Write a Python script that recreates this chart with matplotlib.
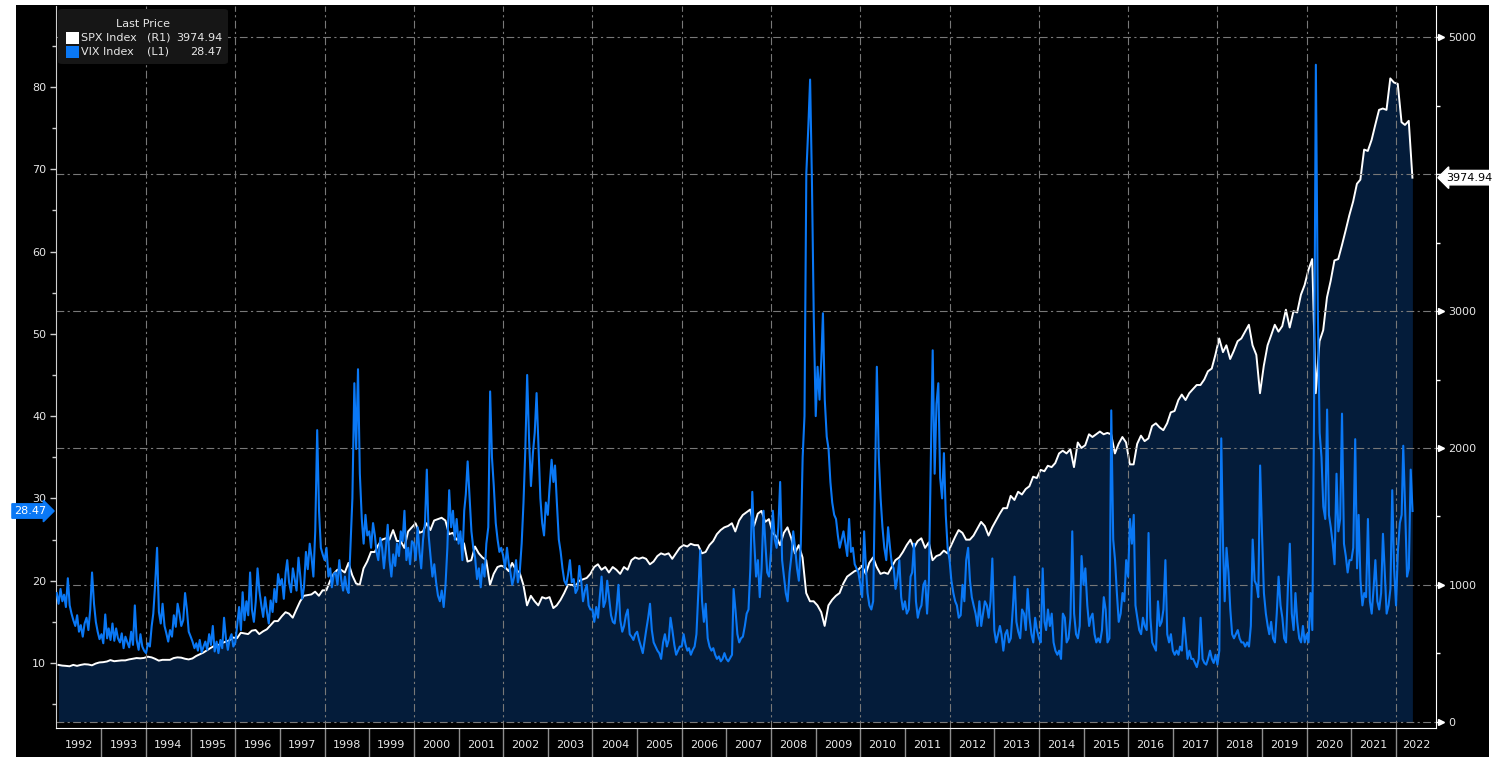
import pandas as pd
import matplotlib
matplotlib.use("Agg")
import matplotlib.pyplot as plt
import matplotlib.dates as mdates
import matplotlib.transforms as mtransforms
from matplotlib.patches import Rectangle, FancyBboxPatch
from matplotlib.ticker import MultipleLocator, FixedLocator, FixedFormatter, NullFormatter

# SPX Index, one value per month (mid-month), Jan 1992 .. May 2022
spx_monthly = [
    415, 410, 408, 405, 415, 408, 415, 420, 418, 412, 425, 433,          # 1992
    435, 440, 450, 442, 445, 448, 448, 455, 460, 465, 463, 466,          # 1993
    475, 470, 460, 446, 452, 452, 452, 465, 470, 468, 460, 455,          # 1994
    462, 480, 492, 505, 522, 540, 555, 560, 575, 585, 595, 615,          # 1995
    610, 650, 645, 640, 665, 670, 640, 660, 675, 705, 735, 735,          # 1996
    770, 800, 790, 760, 820, 880, 920, 925, 930, 950, 920, 960,          # 1997
    960, 1030, 1080, 1110, 1110, 1090, 1160, 1070, 1010, 1000, 1120, 1170,  # 1998
    1240, 1240, 1290, 1330, 1340, 1330, 1400, 1320, 1320, 1270, 1390, 1420,  # 1999
    1450, 1380, 1390, 1450, 1400, 1470, 1480, 1490, 1470, 1370, 1380, 1330,  # 2000
    1340, 1300, 1170, 1180, 1280, 1230, 1200, 1180, 1000, 1080, 1130, 1140,  # 2001
    1130, 1100, 1160, 1110, 1090, 1000, 850, 920, 880, 850, 910, 900,        # 2002
    910, 830, 850, 890, 940, 1000, 1000, 990, 1030, 1040, 1050, 1080,        # 2003
    1130, 1150, 1110, 1130, 1090, 1130, 1110, 1080, 1130, 1110, 1180, 1200,  # 2004
    1190, 1200, 1190, 1150, 1170, 1210, 1230, 1220, 1230, 1190, 1230, 1270,  # 2005
    1290, 1280, 1300, 1290, 1290, 1230, 1240, 1290, 1320, 1370, 1400, 1420,  # 2006
    1430, 1450, 1390, 1470, 1510, 1530, 1550, 1430, 1520, 1540, 1460, 1480,  # 2007
    1380, 1350, 1290, 1380, 1420, 1340, 1230, 1290, 1200, 940, 880, 880,     # 2008
    850, 800, 700, 850, 890, 920, 940, 1010, 1060, 1080, 1100, 1110,         # 2009
    1140, 1080, 1160, 1200, 1130, 1080, 1090, 1080, 1130, 1180, 1200, 1240,  # 2010
    1290, 1330, 1270, 1320, 1340, 1270, 1310, 1180, 1210, 1220, 1250, 1230,  # 2011
    1290, 1350, 1400, 1380, 1330, 1330, 1360, 1410, 1460, 1430, 1360, 1420,  # 2012
    1470, 1520, 1560, 1560, 1650, 1620, 1680, 1660, 1700, 1720, 1790, 1780,  # 2013
    1840, 1830, 1870, 1860, 1890, 1960, 1980, 1960, 1990, 1860, 2040, 2000,  # 2014
    2020, 2100, 2080, 2100, 2120, 2100, 2110, 2100, 1960, 2030, 2080, 2040,  # 2015
    1880, 1880, 2030, 2090, 2050, 2070, 2160, 2180, 2150, 2130, 2180, 2260,  # 2016
    2270, 2350, 2390, 2350, 2400, 2430, 2460, 2460, 2500, 2560, 2580, 2680,  # 2017
    2800, 2700, 2750, 2650, 2710, 2780, 2800, 2850, 2900, 2750, 2680, 2400,  # 2018
    2600, 2750, 2820, 2900, 2850, 2890, 3010, 2880, 3000, 2990, 3120, 3190,  # 2019
    3300, 3380, 2400, 2780, 2860, 3100, 3220, 3370, 3380, 3480, 3590, 3700,  # 2020
    3800, 3930, 3960, 4180, 4170, 4250, 4360, 4470, 4480, 4470, 4700, 4670,  # 2021
    4660, 4380, 4360, 4390, 3974.94,                                         # 2022
]

# VIX Index, two values per month (1st and 16th), Jan 1992 .. May 2022
vix_semi_monthly = [
    18.5, 17.2, 19.0, 17.5, 18.3, 16.8, 20.3, 17.0, 16.0, 15.2, 14.5, 15.8,
    13.8, 14.6, 13.2, 14.8, 15.5, 14.0, 16.5, 21.0, 17.2, 15.0, 13.8, 12.9,  # 1992
    13.5, 12.4, 15.9, 13.0, 14.2, 12.8, 14.8, 12.7, 14.2, 13.0, 12.5, 13.6,
    11.8, 13.2, 12.5, 11.9, 13.8, 12.2, 17.0, 12.8, 11.6, 13.5, 12.0, 11.5,  # 1993
    11.2, 12.4, 12.0, 14.5, 16.0, 19.5, 24.0, 16.2, 14.8, 17.2, 14.5, 13.6,
    12.6, 14.0, 13.2, 15.8, 14.4, 17.2, 16.0, 14.5, 15.2, 18.5, 16.5, 13.8,  # 1994
    13.2, 12.6, 11.8, 12.4, 11.5, 12.8, 11.3, 12.0, 12.6, 11.6, 13.5, 12.2,
    14.5, 11.4, 12.6, 11.2, 12.8, 11.8, 15.5, 13.0, 11.6, 12.9, 13.5, 12.0,  # 1995
    12.5, 14.5, 16.8, 14.0, 18.6, 15.2, 17.5, 15.8, 21.0, 16.5, 15.0, 17.4,
    21.5, 18.8, 17.0, 15.6, 18.0, 16.2, 14.8, 17.6, 16.2, 19.0, 17.4, 20.8,  # 1996
    19.5, 20.2, 17.8, 21.0, 22.5, 19.8, 18.6, 21.5, 20.2, 18.8, 22.8, 20.5,
    17.8, 19.2, 23.5, 21.4, 24.5, 22.8, 20.5, 26.0, 38.3, 28.5, 24.0, 23.2,  # 1997
    22.5, 24.0, 20.5, 21.5, 19.2, 20.8, 21.0, 19.5, 22.5, 20.2, 18.8, 20.5,
    19.0, 18.5, 24.5, 30.0, 44.0, 36.0, 45.7, 33.0, 27.5, 24.5, 28.0, 25.5,  # 1998
    26.0, 24.0, 27.0, 25.5, 23.5, 22.5, 25.2, 24.0, 21.5, 23.8, 26.8, 22.5,
    20.5, 23.2, 21.8, 24.5, 23.0, 26.0, 24.8, 28.5, 22.5, 24.0, 22.0, 24.8,  # 1999
    24.5, 22.5, 26.5, 23.5, 21.5, 25.0, 27.0, 33.5, 25.5, 23.0, 20.5, 22.0,
    19.8, 18.2, 17.5, 18.8, 16.8, 19.5, 24.0, 31.0, 26.5, 28.5, 25.0, 27.5,  # 2000
    24.5, 26.0, 22.5, 28.5, 30.5, 34.5, 30.0, 26.0, 24.0, 22.8, 20.2, 21.5,
    19.2, 22.0, 20.5, 24.5, 26.5, 43.0, 35.0, 31.5, 27.0, 25.0, 23.5, 24.0,  # 2001
    23.0, 21.5, 24.0, 22.0, 21.0, 19.5, 20.5, 22.5, 19.8, 21.0, 24.5, 29.5,
    36.0, 45.0, 37.0, 31.5, 35.5, 38.0, 42.8, 36.5, 30.0, 27.0, 25.5, 29.5,  # 2002
    28.0, 31.5, 34.7, 32.0, 34.0, 29.5, 25.0, 23.5, 21.5, 20.0, 19.5, 20.8,
    22.5, 19.8, 20.2, 18.5, 19.0, 21.8, 20.0, 17.5, 18.8, 19.5, 17.0, 16.5,  # 2003
    16.5, 15.0, 16.8, 15.5, 18.0, 20.5, 16.8, 17.5, 20.0, 18.0, 15.8, 15.0,
    14.8, 16.5, 19.5, 15.2, 13.8, 14.5, 15.8, 16.5, 13.5, 13.2, 12.8, 13.5,  # 2004
    13.8, 12.8, 12.0, 11.2, 12.5, 14.0, 15.5, 17.2, 14.0, 12.5, 12.0, 11.5,
    11.2, 10.5, 12.5, 13.5, 12.0, 12.8, 15.5, 14.0, 12.2, 11.0, 11.5, 12.0,  # 2005
    12.0, 13.5, 12.2, 11.5, 11.8, 11.0, 11.6, 12.0, 13.5, 18.5, 23.7, 17.5,
    15.0, 17.2, 13.0, 12.0, 11.5, 11.8, 11.0, 10.5, 10.8, 10.2, 10.5, 11.2,  # 2006
    10.5, 10.2, 10.6, 11.0, 19.0, 16.5, 13.5, 12.5, 13.0, 13.2, 14.5, 16.0,
    16.5, 21.5, 30.8, 25.0, 20.5, 22.5, 18.0, 21.5, 28.5, 24.5, 21.0, 20.5,  # 2007
    23.5, 28.5, 25.0, 24.0, 26.5, 32.0, 22.5, 20.5, 18.5, 17.5, 21.0, 23.0,
    26.0, 24.0, 21.5, 20.0, 24.5, 35.0, 40.0, 69.5, 75.0, 80.9, 68.5, 52.0,  # 2008
    40.0, 46.0, 42.0, 47.0, 52.5, 42.0, 37.5, 36.0, 32.0, 29.5, 28.0, 27.5,
    25.5, 24.0, 25.0, 26.0, 24.5, 23.0, 27.5, 23.5, 24.0, 22.0, 21.5, 21.0,  # 2009
    19.5, 18.0, 26.0, 21.5, 18.5, 17.0, 16.5, 17.5, 32.0, 46.0, 35.0, 30.0,
    26.5, 24.0, 22.5, 26.5, 24.0, 22.0, 21.5, 19.0, 20.5, 22.5, 18.0, 16.5,  # 2010
    17.5, 16.0, 16.5, 20.5, 21.0, 24.5, 17.5, 15.5, 16.5, 17.0, 19.5, 20.0,
    16.0, 20.0, 35.0, 48.0, 33.0, 41.5, 44.0, 32.5, 30.0, 35.5, 28.0, 24.0,  # 2011
    22.5, 20.0, 18.5, 17.5, 17.0, 15.5, 15.8, 19.5, 17.5, 22.5, 24.0, 20.0,
    18.0, 17.0, 16.0, 14.5, 17.5, 14.5, 16.0, 17.5, 17.0, 15.5, 17.5, 22.7,  # 2012
    14.0, 12.5, 13.5, 14.5, 13.5, 11.5, 13.5, 14.0, 12.5, 13.0, 16.5, 20.5,
    15.0, 13.8, 13.0, 16.5, 16.0, 14.0, 19.0, 15.5, 13.5, 12.5, 15.5, 14.0,  # 2013
    13.0, 12.5, 21.5, 15.0, 14.0, 16.5, 14.5, 16.0, 12.5, 11.5, 11.0, 11.5,
    10.5, 16.0, 15.5, 12.5, 13.0, 15.5, 26.0, 16.0, 13.5, 13.0, 14.5, 23.0,  # 2014
    19.5, 21.5, 17.0, 14.5, 15.5, 16.0, 13.5, 12.5, 13.0, 12.5, 14.0, 18.0,
    16.5, 12.5, 13.0, 40.7, 25.0, 22.5, 18.5, 15.0, 16.0, 18.5, 17.5, 22.5,  # 2015
    20.5, 27.5, 24.5, 28.0, 17.0, 15.5, 14.0, 13.5, 15.5, 14.5, 14.0, 25.8,
    15.5, 12.5, 12.0, 11.5, 17.5, 14.5, 15.0, 16.5, 22.5, 13.5, 12.5, 13.5,  # 2016
    11.5, 11.0, 11.5, 11.0, 12.0, 11.5, 15.5, 13.0, 10.5, 11.5, 10.5, 10.5,
    10.0, 9.5, 10.5, 15.5, 10.5, 10.0, 9.8, 10.5, 11.5, 10.5, 10.0, 11.0,   # 2017
    9.8, 11.5, 37.3, 24.0, 17.5, 24.0, 21.0, 16.5, 13.5, 13.0, 13.5, 14.0,
    13.0, 12.5, 12.5, 12.0, 12.5, 12.0, 14.5, 25.0, 20.0, 19.5, 18.0, 34.0,  # 2018
    25.5, 18.5, 16.0, 14.5, 13.5, 15.0, 13.0, 12.5, 16.0, 20.5, 17.0, 15.5,
    13.0, 12.5, 19.5, 24.5, 16.0, 14.0, 18.5, 15.0, 13.0, 12.5, 14.5, 12.5,  # 2019
    13.5, 12.5, 18.5, 14.0, 40.0, 82.7, 53.0, 38.0, 35.0, 29.0, 27.5, 40.8,
    28.0, 26.5, 24.5, 22.0, 33.0, 26.0, 27.5, 40.3, 24.5, 23.0, 21.0, 22.5,  # 2020
    22.5, 24.0, 37.2, 21.5, 28.0, 20.0, 17.0, 18.5, 18.0, 27.5, 17.5, 16.0,
    19.0, 22.5, 17.5, 16.5, 18.5, 25.7, 21.0, 16.0, 17.0, 19.0, 31.0, 21.5,  # 2021
    17.0, 23.5, 27.0, 28.0, 36.4, 29.0, 20.5, 21.5, 33.5, 28.47,             # 2022
]

spx_last = 3974.94
vix_last = 28.47
year_labels = [str(y) for y in range(1992, 2023)]

# dates
months = pd.date_range("1992-01-01", periods=len(spx_monthly), freq="MS")
spx_dates = months + pd.Timedelta(days=14)
vix_dates = []
for m in pd.date_range("1992-01-01", periods=len(vix_semi_monthly) // 2 + 1, freq="MS"):
    vix_dates += [m, m + pd.Timedelta(days=15)]
vix_dates = vix_dates[:len(vix_semi_monthly)]

W, H = 1497, 757
NAVY = "#041c3a"
BLUE = "#0a78f5"
TXT = "#e6e6e6"
GRID = "#787878"
DASHDOT = (0, (7, 3, 2, 3))

fig = plt.figure(figsize=(W / 100, H / 100), dpi=100, facecolor="white")
fig.patches.append(Rectangle((16 / W, 0), (1489 - 16) / W, 752 / H,
                             transform=fig.transFigure, facecolor="black",
                             edgecolor="none", zorder=-10))

# SPX axes (back, right scale), VIX axes (front, left scale)
ax = fig.add_axes([56 / W, 29 / H, 1380 / W, 722 / H])
ax.set_facecolor("black")
axv = ax.twinx()
axv.patch.set_visible(False)

ax.fill_between(spx_dates, spx_monthly, 0, color=NAVY, lw=0, zorder=1)
ax.plot(spx_dates, spx_monthly, color="white", lw=1.4, zorder=2)
axv.plot(vix_dates, vix_semi_monthly, color=BLUE, lw=1.5, zorder=3)

xmin = pd.Timestamp("1991-12-26")
xmax = pd.Timestamp("2022-11-24")
ax.set_xlim(xmin, xmax)
ax.set_ylim(-46, 5229)
axv.set_ylim(2.1, 89.84)

# right scale (SPX)
ax.yaxis.tick_right()
ax.yaxis.set_major_locator(FixedLocator([0, 1000, 2000, 3000, 4000, 5000]))
ax.yaxis.set_major_formatter(FixedFormatter(["0", "1000", "2000", "3000", "", "5000"]))
ax.yaxis.set_minor_locator(MultipleLocator(500))
ax.tick_params(axis="y", which="major", length=5, width=1, color="white",
               labelcolor=TXT, labelsize=8, pad=4)
ax.tick_params(axis="y", which="minor", length=3, width=1, color="white")
ax.grid(axis="y", which="major", color=GRID, lw=0.8, linestyle=DASHDOT)
ax.set_axisbelow(False)
arrow_tr = (mtransforms.blended_transform_factory(ax.transAxes, ax.transData)
            + mtransforms.ScaledTranslation(0.05, 0, fig.dpi_scale_trans))
ax.plot([1.0] * 5, [0, 1000, 2000, 3000, 5000], transform=arrow_tr, ls="none",
        marker=">", ms=4, color="white", clip_on=False, zorder=5)

# left scale (VIX)
axv.yaxis.tick_left()
axv.yaxis.set_major_locator(MultipleLocator(10))
axv.yaxis.set_minor_locator(MultipleLocator(5))
axv.tick_params(axis="y", which="major", length=4, width=1, color="#cfcfcf",
                labelcolor=TXT, labelsize=8, pad=3)
axv.tick_params(axis="y", which="minor", length=3, width=1, color="#cfcfcf")

# x axis: year separators + centered year labels
year_starts = [pd.Timestamp(f"{y}-01-01") for y in range(1993, 2023)]
mids = [mdates.date2num(pd.Timestamp(f"{y}-07-02")) for y in range(1992, 2022)]
mids.append((mdates.date2num(pd.Timestamp("2022-01-01")) + mdates.date2num(xmax)) / 2)
ax.xaxis.set_major_locator(FixedLocator(mdates.date2num(year_starts)))
ax.xaxis.set_major_formatter(NullFormatter())
ax.xaxis.set_minor_locator(FixedLocator(mids))
ax.xaxis.set_minor_formatter(FixedFormatter(year_labels))
ax.tick_params(axis="x", which="major", length=21, width=1, color="#8c8c8c")
ax.tick_params(axis="x", which="minor", length=0, labelcolor=TXT, labelsize=8, pad=9)

for y in range(1994, 2023, 2):
    ax.axvline(pd.Timestamp(f"{y}-01-01"), color=GRID, lw=0.8, linestyle=DASHDOT, zorder=2.5)

for a in (ax, axv):
    a.spines["top"].set_visible(False)
axv.spines["left"].set_color("#cfcfcf")
axv.spines["right"].set_color("white")
axv.spines["bottom"].set_color("white")
for s in ax.spines.values():
    s.set_visible(False)

# last-value tags
ax.annotate(f"{spx_last:.2f}", xy=(1.0, spx_last),
            xycoords=mtransforms.blended_transform_factory(ax.transAxes, ax.transData),
            xytext=(7, 0), textcoords="offset points", ha="left", va="center",
            fontsize=8, color="black", annotation_clip=False, zorder=6,
            bbox=dict(boxstyle="larrow,pad=0.2", fc="white", ec="white"))
axv.annotate(f"{vix_last:.2f}", xy=(0.0, vix_last),
             xycoords=mtransforms.blended_transform_factory(axv.transAxes, axv.transData),
             xytext=(-7, 0), textcoords="offset points", ha="right", va="center",
             fontsize=8, color="white", annotation_clip=False, zorder=6,
             bbox=dict(boxstyle="rarrow,pad=0.2", fc=BLUE, ec=BLUE))

# legend box
def fx(x):
    return x / W

def fy(y):
    return 1 - y / H

fig.add_artist(FancyBboxPatch((fx(58), fy(64)), fx(170), 55 / H,
                              boxstyle="round,pad=0,rounding_size=0.003",
                              transform=fig.transFigure, fc="#161616", ec="none", zorder=10))
fig.text(fx(143), fy(24), "Last Price", ha="center", va="center", color=TXT, fontsize=8, zorder=11)
rows = [("white", "SPX Index", "(R1)", f"{spx_last:.2f}", 38),
        (BLUE, "VIX Index", "(L1)", f"{vix_last:.2f}", 52)]
for col, name, side, val, yy in rows:
    fig.add_artist(Rectangle((fx(66), fy(yy + 6)), fx(13), 12 / H, transform=fig.transFigure,
                             fc=col, ec="none", zorder=11))
    fig.text(fx(81), fy(yy), name, ha="left", va="center", color=TXT, fontsize=8, zorder=11)
    fig.text(fx(147), fy(yy), side, ha="left", va="center", color=TXT, fontsize=8, zorder=11)
    fig.text(fx(222), fy(yy), val, ha="right", va="center", color=TXT, fontsize=8, zorder=11)

fig.savefig("out.png", dpi=100, facecolor="white")
